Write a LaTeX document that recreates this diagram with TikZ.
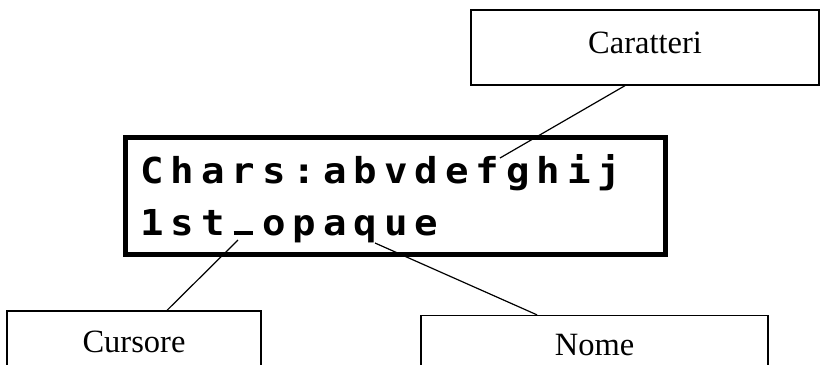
\documentclass[tikz,border=0pt]{standalone}
\usepackage{graphicx}
\usepackage{fontspec}
\setmainfont{Liberation Serif}
\newfontfamily\lcdfont{DejaVu Sans Mono}[BoldFont={DejaVu Sans Mono Bold}]

% Set a string on the fixed character grid of the display,
% each glyph widened to the proportions of a dot-matrix cell
\ExplSyntaxOn
\NewDocumentCommand{\lcdtext}{m}
  { \tl_map_inline:nn {#1} { \makebox[30.5pt][c]{\scalebox{1.15}[1.05]{##1}} } }
\ExplSyntaxOff
% underscore of the display sits on the bottom dot row
\newcommand{\lcdbar}{\rule{17pt}{3.8pt}}

\tikzset{
  callout/.style={draw, line width=1.3pt, inner sep=0pt,
    font=\fontsize{32.5}{38}\selectfont},
  display/.style={draw, line width=5pt, inner sep=0pt},
  lcdrow/.style={inner sep=0pt, anchor=base west,
    font=\lcdfont\bfseries\fontsize{34}{40}\selectfont},
  leader/.style={line width=1.2pt}
}

\begin{document}
\begin{tikzpicture}[x=1pt, y=-1pt]
  \useasboundingbox (0,0) rectangle (821,364);
  \clip (0,0) rectangle (821,364);

  % display panel and its two text rows
  \node[display, minimum width=540pt, minimum height=117pt] (lcd) at (395.5,196) {};
  \node[lcdrow] (row1) at (136.5,183) {\lcdtext{Chars:abvdefghij}};
  \node[lcdrow] (row2) at (136.5,235) {\lcdtext{1st\lcdbar opaque}};

  % callout boxes
  \node[callout, minimum width=348pt, text height=43pt, text depth=32pt]
    (car) at (645,47.5) {Caratteri};
  \node[callout, minimum width=254pt, text height=41pt, text depth=28pt]
    (cur) at (134,345.5) {Cursore};
  \node[callout, minimum width=347pt, text height=39.5pt, text depth=25pt]
    (nome) at (594.5,347.75) {Nome};

  % points on the display that the callouts refer to
  \coordinate (charsmark) at (500,158);
  \coordinate (cursormark) at (238,240);
  \coordinate (namemark) at (375,243);

  % leader lines
  \draw[leader] ([xshift=-20pt]car.south) -- (charsmark);
  \draw[leader] ([xshift=33pt]cur.north) -- (cursormark);
  \draw[leader] ([xshift=-57.5pt]nome.north) -- (namemark);
\end{tikzpicture}
\end{document}
